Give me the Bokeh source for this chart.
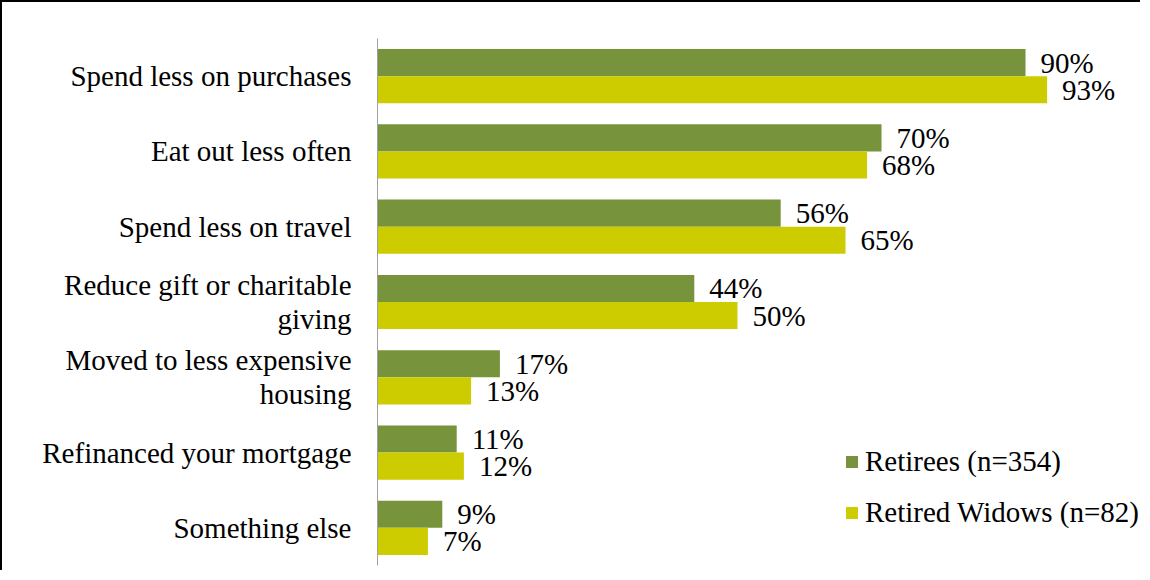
from bokeh.plotting import figure
from bokeh.models import FactorRange, Range1d, ColumnDataSource, LabelSet, Legend, LegendItem
from bokeh.transform import dodge
from bokeh.embed import file_html
from bokeh.resources import INLINE

categories = [
    "Spend less on purchases",
    "Eat out less often",
    "Spend less on travel",
    "Reduce gift or charitable\ngiving",
    "Moved to less expensive\nhousing",
    "Refinanced your mortgage",
    "Something else",
]
retirees = [90, 70, 56, 44, 17, 11, 9]
widows = [93, 68, 65, 50, 13, 12, 7]
series_names = ["Retirees (n=354)", "Retired Widows (n=82)"]
colors = ["#77933C", "#CCCC00"]

FONT = "Liberation Serif"
FS = "29px"

src = ColumnDataSource(data=dict(
    cat=categories,
    r=retirees,
    w=widows,
    rl=[f"{v}%" for v in retirees],
    wl=[f"{v}%" for v in widows],
))

p = figure(
    width=1140, height=570,
    y_range=FactorRange(factors=list(reversed(categories))),
    x_range=Range1d(0, 106.25),
    output_backend="svg", toolbar_location=None,
    min_border_left=375, min_border_right=0, min_border_top=36, min_border_bottom=7,
)
p.styles = {"border-left": "2px solid #000000", "border-top": "2px solid #000000"}

r1 = p.hbar(y=dodge("cat", 0.18, range=p.y_range), right="r", height=0.36, source=src,
            fill_color=colors[0], line_color=None)
r2 = p.hbar(y=dodge("cat", -0.18, range=p.y_range), right="w", height=0.36, source=src,
            fill_color=colors[1], line_color=None)

for ycol, off, lab in [("r", 0.18, "rl"), ("w", -0.18, "wl")]:
    ls = LabelSet(x=ycol, y=dodge("cat", off, range=p.y_range), text=lab, source=src,
                  x_offset=15, text_baseline="middle", text_font=FONT,
                  text_font_size=FS, text_color="#000000")
    p.add_layout(ls)

legend = Legend(items=[LegendItem(label=series_names[0], renderers=[r1]),
                       LegendItem(label=series_names[1], renderers=[r2])],
                location=(467, 36), orientation="vertical",
                label_text_font=FONT, label_text_font_size=FS, label_text_color="#000000",
                glyph_width=15, glyph_height=15, label_standoff=6, spacing=18,
                padding=0, margin=0, border_line_color=None, background_fill_alpha=0)
p.add_layout(legend)

p.xaxis.visible = False
p.xgrid.grid_line_color = None
p.ygrid.grid_line_color = None
p.outline_line_color = None

ya = p.yaxis[0]
ya.axis_line_color = "#A0A0A0"
ya.axis_line_width = 1
ya.major_tick_line_color = None
ya.minor_tick_line_color = None
ya.major_label_standoff = 20
ya.major_label_text_font = FONT
ya.major_label_text_font_size = FS
ya.major_label_text_color = "#000000"
ya.major_label_text_line_height = 1.05

open("out.html", "w").write(file_html(p, INLINE))
